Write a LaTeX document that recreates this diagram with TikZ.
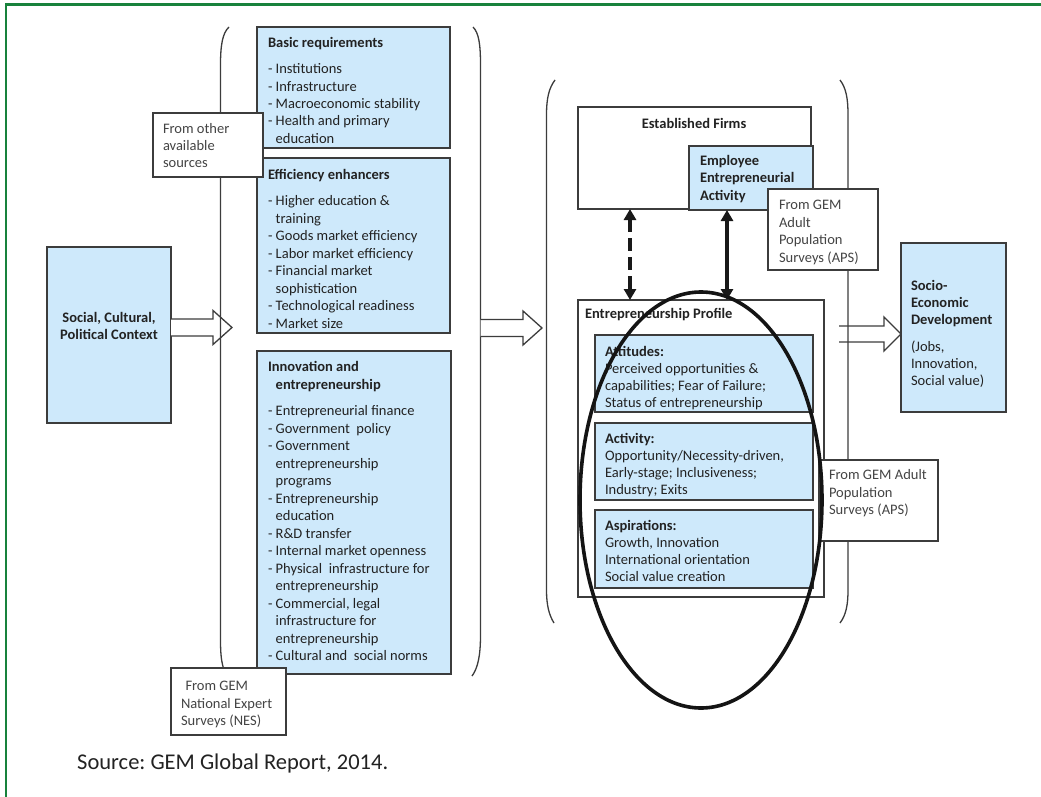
\documentclass[tikz,border=0pt]{standalone}
\usepackage{fontspec}
\setmainfont{Carlito}
\frenchspacing
\usetikzlibrary{arrows.meta,shapes.geometric,calc}
\definecolor{framegreen}{RGB}{24,130,60}
\definecolor{skyfill}{RGB}{206,233,251}
\definecolor{edge}{RGB}{60,60,60}
\definecolor{ink}{RGB}{34,34,34}
\definecolor{note}{RGB}{68,68,68}
\newcommand{\cont}{\phantom{- }}
% block arrow: #1 start, #2 tip, #3 shaft half width, #4 head half width, #5 head length
\newcommand{\blockarrow}[5]{%
  \draw[blockarrow] ($(#1)+(0,-#3)$) -- ($(#2)+(-#5,-#3)$) -- ($(#2)+(-#5,-#4)$)
    -- (#2) -- ($(#2)+(-#5,#4)$) -- ($(#2)+(-#5,#3)$) -- ($(#1)+(0,#3)$);}

\begin{document}
\begin{tikzpicture}[x=1pt,y=-1pt,
  box/.style={draw=edge, line width=1.3pt, anchor=north west, inner sep=0pt, outer sep=0pt},
  skybox/.style={box, fill=skyfill},
  whitebox/.style={box, fill=white},
  txt/.style={anchor=north west, inner sep=0pt, outer sep=0pt, align=left, text=ink,
              font=\fontsize{14.5}{17.5}\selectfont},
  txtnarrow/.style={txt, font=\fontsize{14.5}{17}\selectfont},
  notetxt/.style={txt, text=note},
  paren/.style={draw=edge, line width=1.3pt},
  blockarrow/.style={draw=edge, line width=1.3pt, fill=white, line join=miter},
  link/.style={line width=3.5pt, draw=black!90,
               {Triangle[width=12pt,length=11pt]}-{Triangle[width=12pt,length=11pt]}},
]
\useasboundingbox (0,0) rectangle (1041,797);
\fill[white] (0,0) rectangle (1041,797);

% outer frame
\draw[framegreen, line width=2.4pt] (6,800) -- (6,4.5) -- (1045,4.5);

% ---------- left column ----------
\node[skybox, minimum width=124pt, minimum height=176pt] (social) at (47,247) {};
\node[font=\fontsize{14.5}{17.5}\selectfont\bfseries, text=ink, align=center, inner sep=0pt]
  (socialtxt) at (109,326) {Social, Cultural,\\Political Context};

\coordinate (t1) at (232,327.5);
\blockarrow{social.east |- t1}{t1}{8.5}{17}{19}

% first bracket
\path[paren] (229,27) .. controls (222.5,33) and (220.5,45) .. (220.5,65) -- (220.5,640)
  .. controls (220.5,655) and (221.5,662) .. (224,670);
\path[paren] (473,27) .. controls (479,33) and (480.5,45) .. (480.5,65) -- (480.5,635)
  .. controls (480.5,655) and (478,668) .. (472,676);

\node[skybox, minimum width=193pt, minimum height=121pt] (basic) at (257,27) {};
\node[txt] (basictxt) at (268,35.25) {\strut\textbf{Basic requirements}\\[8.5pt]
  - Institutions\\
  - Infrastructure\\
  - Macroeconomic stability\\
  - Health and primary\\
  \cont education};

\node[skybox, minimum width=193pt, minimum height=175pt] (eff) at (257,158) {};
\node[txt] (efftxt) at (268,167.25) {\strut\textbf{Efficiency enhancers}\\[8.5pt]
  - Higher education \&\\
  \cont training\\
  - Goods market efficiency\\
  - Labor market efficiency\\
  - Financial market\\
  \cont sophistication\\
  - Technological readiness\\
  - Market size};

\node[skybox, minimum width=194pt, minimum height=323pt] (innov) at (257,351) {};
\node[txt] (innovtxt) at (268,359.25) {\strut\textbf{Innovation and}\\
  \cont\textbf{entrepreneurship}\\[9pt]
  - Entrepreneurial finance\\
  - Government\ \ policy\\
  - Government\\
  \cont entrepreneurship\\
  \cont programs\\
  - Entrepreneurship\\
  \cont education\\
  - R\&D transfer\\
  - Internal market openness\\
  - Physical\ \ infrastructure for\\
  \cont entrepreneurship\\
  - Commercial, legal\\
  \cont infrastructure for\\
  \cont entrepreneurship\\
  - Cultural and\ \ social norms};

\node[whitebox, minimum width=110pt, minimum height=64pt] (other) at (153,113) {};
\node[notetxt, font=\fontsize{14.5}{17}\selectfont] (othertxt) at (163,121.6)
  {\strut From other\\available\\sources};

\node[whitebox, minimum width=115pt, minimum height=67pt] (nes) at (171,668) {};
\node[notetxt] (nestxt) at (181,678.25)
  {\strut\hspace{4.5pt}From GEM\\National Expert\\Surveys (NES)};

% ---------- middle column ----------
\coordinate (s2) at (480.5,328);
\coordinate (t2) at (542,328);
\blockarrow{s2}{t2}{8.5}{17}{19}

\path[paren] (555,80) .. controls (549,88) and (546.5,98) .. (546.5,115) -- (546.5,590)
  .. controls (546.5,605) and (549,615) .. (554,623);

\node[whitebox, minimum width=233pt, minimum height=102pt] (est) at (578,107) {};
\node[font=\fontsize{14.5}{17.5}\selectfont\bfseries, text=ink, inner sep=0pt]
  (esttxt) at (694,123) {Established Firms};

\node[skybox, minimum width=124pt, minimum height=64pt] (emp) at (689,146) {};
\node[txt, font=\fontsize{14.5}{17.5}\selectfont\bfseries] (emptxt) at (700,153.25)
  {\strut Employee\\Entrepreneurial\\Activity};

\node[whitebox, minimum width=246pt, minimum height=297pt] (prof) at (578,300) {};
\node[txt, font=\fontsize{14.5}{17.5}\selectfont\bfseries] (proftxt) at (585,306.25)
  {\strut Entrepreneurship Profile};

\node[skybox, minimum width=218pt, minimum height=77pt] (att) at (595,335) {};
\node[txtnarrow] (atttxt) at (605,344.6)
  {\strut\textbf{Attitudes:}\\Perceived opportunities \&\\capabilities; Fear of Failure;\\Status of entrepreneurship};

\node[skybox, minimum width=218pt, minimum height=77pt] (act) at (595,423) {};
\node[txtnarrow] (acttxt) at (605,431.6)
  {\strut\textbf{Activity:}\\Opportunity/Necessity-driven,\\Early-stage; Inclusiveness;\\Industry; Exits};

\node[skybox, minimum width=218pt, minimum height=78pt] (asp) at (595,510) {};
\node[txtnarrow] (asptxt) at (605,518.6)
  {\strut\textbf{Aspirations:}\\Growth, Innovation\\International orientation\\Social value creation};

\coordinate (dx) at (630,0);
\coordinate (sx) at (727,0);
\draw[link, dash pattern=on 13pt off 6pt] (est.south -| dx) -- (prof.north -| dx);
\draw[link] (emp.south -| sx) -- (prof.north -| sx);

% ---------- right column ----------
\node[skybox, minimum width=105pt, minimum height=169pt] (socio) at (901,243) {};
\node[txt, font=\fontsize{14.5}{17}\selectfont] (sociotxt) at (911,278.6)
  {\strut\textbf{Socio-}\\\textbf{Economic}\\\textbf{Development}\\[10pt](Jobs,\\Innovation,\\Social value)};

\coordinate (s3) at (839,334);
\blockarrow{s3}{socio.west |- s3}{8}{17}{17}

\path[paren] (840,80) .. controls (846,88) and (848,98) .. (848,115) -- (848,590)
  .. controls (848,605) and (846,615) .. (840,623);

\node[whitebox, minimum width=110pt, minimum height=81pt] (apsA) at (768,189) {};
\node[notetxt] (apsAtxt) at (779,197.25)
  {\strut From GEM\\Adult\\Population\\Surveys (APS)};

\node[whitebox, minimum width=119pt, minimum height=81pt] (apsB) at (819,460) {};
\node[notetxt] (apsBtxt) at (829,467.25)
  {\strut From GEM Adult\\Population\\Surveys (APS)};

% emphasis ring around the profile
\node[draw=black!92, line width=3.6pt, ellipse, minimum width=242pt, minimum height=416pt,
      inner sep=0pt] (ring) at (701,500) {};

% source line
\node[anchor=west, inner sep=0pt, font=\fontsize{22.5}{26}\selectfont, text=ink]
  (src) at (77,763) {Source: GEM Global Report, 2014.};
\end{tikzpicture}
\end{document}
